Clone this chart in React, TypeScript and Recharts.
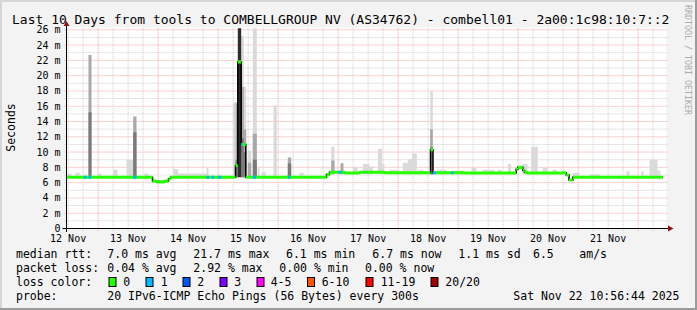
import React from 'react';
import { ComposedChart, Area, XAxis, YAxis, ReferenceLine, CartesianGrid } from 'recharts';

const W = 697;
const H = 310;
const MONO = "'DejaVu Sans Mono', monospace";

// x = hours since 12 Nov 00:00, window is the last 10 days
const T_START = 11.35;
const T_END = 251.35;
const Y_MAX = 26.3;

const title = 'Last 10 Days from tools to COMBELLGROUP NV (AS34762) - combell01 - 2a00:1c98:10:7::2';
const dayTicks = [12, 36, 60, 84, 108, 132, 156, 180, 204, 228];
const dayLabels = ['12 Nov', '13 Nov', '14 Nov', '15 Nov', '16 Nov', '17 Nov', '18 Nov', '19 Nov', '20 Nov', '21 Nov'];
const yTicks = [0, 2, 4, 6, 8, 10, 12, 14, 16, 18, 20, 22, 24, 26];
const yLabels = ['0', '2 m', '4 m', '6 m', '8 m', '10 m', '12 m', '14 m', '16 m', '18 m', '20 m', '22 m', '24 m', '26 m'];

// median rtt (ms), step changes
const medianT = [11.35, 45.75, 47.35, 50.55, 52.15, 52.95, 78.95, 79.87, 81.23, 83.07, 115.35, 116.55, 122.55, 128.55, 138.55, 156.95, 157.95, 170.55, 191.23, 191.87, 193.87, 194.55, 195.47, 209.23, 211.23, 212.35, 213.87, 249.87];
const medianV = [6.7, 6.2, 6.1, 6.2, 6.5, 6.7, 8.25, 21.8, 11.0, 6.7, 7.05, 7.35, 7.25, 7.35, 7.3, 10.3, 7.3, 7.25, 7.75, 8.0, 7.6, 7.35, 7.25, 7.3, 7.0, 6.35, 6.7, 6.7];

// periods with 1 lost ping [start, end]
const loss1 = [
  [18.27, 19.35], [20.15, 21.35], [38.03, 39.35], [67.35, 68.43], [69.35, 70.43], [71.87, 73.23],
  [81.23, 81.87], [85.87, 87.23], [99.87, 100.95], [120.15, 121.47], [157.95, 159.23], [165.23, 166.15],
];

// smoke [start, end, low, high] in ms, by shade
const smokeLight = [
  [11.35, 13.35, 6.7, 7.15], [14.95, 16.55, 6.7, 7.3], [23.75, 25.35, 6.7, 7.2], [30.03, 31.75, 6.7, 7.7],
  [35.35, 38.03, 6.7, 9.0], [42.55, 44.15, 6.7, 7.2], [54.03, 56.03, 6.7, 7.8], [56.03, 67.35, 6.7, 7.2],
  [67.35, 68.15, 6.7, 7.9], [77.95, 78.95, 6.7, 16.5], [81.23, 82.27, 6.7, 25.2], [82.27, 83.23, 6.7, 18.5],
  [83.87, 85.23, 6.7, 10.2], [85.87, 87.47, 6.7, 26.2], [87.75, 88.55, 6.7, 8.0], [89.35, 90.95, 6.7, 7.4],
  [94.15, 95.47, 6.7, 16.1], [104.55, 106.15, 6.7, 7.3], [117.23, 118.55, 7.1, 10.7], [125.87, 127.87, 7.1, 8.0],
  [129.87, 132.55, 7.1, 8.45], [132.55, 133.87, 7.1, 8.1], [135.87, 137.63, 7.1, 10.4], [137.63, 138.55, 7.1, 8.45],
  [140.55, 144.55, 7.1, 7.7], [145.87, 147.87, 7.1, 8.6], [147.87, 149.63, 7.1, 9.1], [149.63, 151.47, 7.1, 9.8],
  [151.75, 154.15, 7.1, 7.7], [156.83, 157.87, 7.1, 18.0], [159.35, 163.35, 7.1, 7.7], [166.55, 170.55, 7.1, 7.6],
  [173.35, 175.35, 7.1, 7.9], [177.75, 182.55, 7.1, 7.7], [183.75, 185.35, 7.1, 7.7], [187.87, 189.23, 7.1, 8.45],
  [193.75, 195.75, 7.1, 8.45], [197.23, 199.87, 7.1, 10.7], [201.75, 203.75, 7.1, 7.95], [205.75, 207.35, 7.1, 7.7],
  [213.75, 216.55, 6.6, 7.25], [220.55, 224.55, 6.6, 7.1], [235.35, 236.55, 6.6, 7.5], [241.23, 242.15, 6.6, 7.5],
  [244.55, 247.75, 6.6, 9.0], [247.75, 248.95, 6.6, 7.6],
];
const smokeMid = [
  [20.15, 21.35, 6.7, 22.7], [38.03, 39.35, 6.7, 14.66], [78.95, 79.87, 6.7, 16.5], [81.23, 82.27, 6.7, 18.5],
  [82.27, 83.23, 6.7, 13.0], [83.87, 85.23, 6.7, 8.6], [85.87, 87.47, 6.7, 12.4], [99.87, 101.23, 6.7, 9.3],
  [117.23, 118.55, 7.1, 8.9], [120.95, 122.15, 7.1, 8.55], [156.83, 157.87, 7.1, 13.0],
];
const smokeDark = [
  [20.15, 21.35, 6.7, 15.2], [38.03, 39.35, 6.7, 12.6], [78.95, 79.87, 6.7, 9.0], [81.23, 82.27, 6.7, 11.8],
  [82.27, 83.23, 6.7, 10.0], [85.87, 87.47, 6.7, 9.0], [99.87, 101.23, 6.7, 8.5], [156.83, 157.87, 7.1, 10.6],
];
const smokeBlack = [[79.87, 81.23, 6.7, 26.2]];

// legend
const rttStats = ['7.0 ms avg', '21.7 ms max', '6.1 ms min', '6.7 ms now', '1.1 ms sd', '6.5', 'am/s'];
const lossStats = ['0.04 % avg', '2.92 % max', '0.00 % min', '0.00 % now'];
const lossLabels = ['0', '1', '2', '3', '4-5', '6-10', '11-19', '20/20'];
const lossColors = ['#26ff00', '#00b8ff', '#0059ff', '#7e00ff', '#ff00ff', '#ff5500', '#ff0000', '#a10000'];
const probeText = '20 IPv6-ICMP Echo Pings (56 Bytes) every 300s';
const stamp = 'Sat Nov 22 10:56:44 2025';

// legend layout (px)
const rttX = [107.3, 193.3, 286, 372.3, 458.3, 533, 579.3];
const lossX = [107.3, 193.3, 279.3, 365];
const boxX = [108.5, 145.5, 182.5, 219.5, 256.5, 307, 365.5, 430.5];
const boxLabelX = [123.3, 160.7, 197.3, 234.3, 270.7, 321.7, 380.7, 445.3];

const BAND = 0.2;

function medianAt(t: number) {
  let v = medianV[0];
  for (let i = 0; i < medianT.length; i++) if (medianT[i] <= t) v = medianV[i];
  return v;
}

function segRows(segs: number[][]) {
  const rows: { t: number; v: number[] | null }[] = [];
  [...segs].sort((a, b) => a[0] - b[0]).forEach(([t0, t1, lo, hi]) => {
    rows.push({ t: t0, v: [lo, hi] });
    rows.push({ t: t1, v: [lo, hi] });
    rows.push({ t: t1, v: null });
  });
  return rows;
}

const medianRows = medianT.map((t, i) => ({ t, m: medianV[i], v: [medianV[i] - BAND, medianV[i] + BAND] }));
const lossRows = segRows(loss1.map(([a, b]) => {
  const m = medianAt(a + 1e-6);
  return [a, b, m - BAND, m + BAND];
}));

const hGrid: number[] = [];
for (let v = 1; v <= 26; v++) hGrid.push(v);
const vGrid: number[] = [];
for (let t = 12; t < T_END; t += 6) vGrid.push(t);

const RED = '#f4a4a4';
const GRAY = '#cdcdcd';

export default function App() {
  const txt = { fontFamily: MONO, fontSize: 11.5, fill: '#000' };
  return (
    <div style={{ position: 'absolute', left: 0, top: 0, width: W, height: H, background: '#f3f3f3' }}>
      <ComposedChart width={W} height={H} margin={{ top: 27.5, right: 30.5, bottom: 61.5, left: 6.5 }}>
        <CartesianGrid fill="#ffffff" stroke="none" horizontal={false} vertical={false} />
        <XAxis
          dataKey="t"
          type="number"
          domain={[T_START, T_END]}
          allowDataOverflow
          ticks={dayTicks}
          interval={0}
          tickFormatter={(v: number) => dayLabels[dayTicks.indexOf(v)]}
          height={20}
          tickLine={false}
          tickSize={0}
          tickMargin={6}
          axisLine={{ stroke: '#000' }}
          tick={{ fontFamily: MONO, fontSize: 10, fill: '#000' }}
        />
        <YAxis
          type="number"
          domain={[0, Y_MAX]}
          allowDataOverflow
          ticks={yTicks}
          interval={0}
          tickFormatter={(v: number) => yLabels[yTicks.indexOf(v)]}
          width={60}
          tickLine={false}
          tickSize={0}
          tickMargin={6}
          axisLine={{ stroke: '#000' }}
          tick={{ fontFamily: MONO, fontSize: 10, fill: '#000' }}
        />
        {hGrid.map((v) => (
          <ReferenceLine
            key={`h${v}`}
            segment={[{ x: T_START - 0.8, y: v }, { x: T_END + 0.8, y: v }]}
            stroke={v % 2 === 0 ? RED : GRAY}
            strokeDasharray="1 1"
            ifOverflow="visible"
            zIndex={50}
          />
        ))}
        {vGrid.map((t) => (
          <ReferenceLine
            key={`v${t}`}
            segment={[{ x: t, y: -0.35 }, { x: t, y: Y_MAX }]}
            stroke={t % 24 === 0 ? RED : GRAY}
            strokeDasharray="1 1"
            ifOverflow="visible"
            zIndex={50}
          />
        ))}
        <Area data={segRows(smokeLight)} dataKey="v" type="stepAfter" fill="#dadada" fillOpacity={1} stroke="none" isAnimationActive={false} />
        <Area data={segRows(smokeMid)} dataKey="v" type="stepAfter" fill="#a9a9a9" fillOpacity={1} stroke="none" isAnimationActive={false} />
        <Area data={segRows(smokeDark)} dataKey="v" type="stepAfter" fill="#7a7a7a" fillOpacity={1} stroke="none" isAnimationActive={false} />
        <Area data={segRows(smokeBlack)} dataKey="v" type="stepAfter" fill="#2e2e2e" fillOpacity={1} stroke="none" isAnimationActive={false} />
        {/* black step outline of the median, shows at the jumps */}
        <Area data={medianRows} dataKey="m" type="stepAfter" fill="none" stroke="#000" strokeWidth={1.5} isAnimationActive={false} />
        <Area data={medianRows} dataKey="v" type="stepAfter" fill={lossColors[0]} fillOpacity={1} stroke="none" isAnimationActive={false} />
        <Area data={lossRows} dataKey="v" type="stepAfter" fill={lossColors[1]} fillOpacity={1} stroke="none" isAnimationActive={false} />
      </ComposedChart>

      <svg width={W} height={H} style={{ position: 'absolute', left: 0, top: 0, pointerEvents: 'none' }}>
        {/* frame */}
        <line x1={0} y1={1} x2={W} y2={1} stroke="#d6d6d6" strokeWidth={2} />
        <line x1={1} y1={0} x2={1} y2={H} stroke="#d6d6d6" strokeWidth={2} />
        <line x1={0} y1={H - 1} x2={W} y2={H - 1} stroke="#9b9b9b" strokeWidth={2} />
        <line x1={W - 1} y1={0} x2={W - 1} y2={H} stroke="#9b9b9b" strokeWidth={2} />

        {/* axis ends and arrows */}
        <line x1={62.5} y1={228.5} x2={668} y2={228.5} stroke="#000" />
        <line x1={66.5} y1={232} x2={66.5} y2={25} stroke="#000" />
        <polygon points="668,225.5 673.5,228.5 668,231.5" fill="#8e1414" />
        <polygon points="63.5,26 66.5,21 69.5,26" fill="#8e1414" />

        <text x={12} y={24} style={{ fontFamily: MONO, fontSize: 13, fill: '#000' }}>{title}</text>
        <text transform="translate(14.5,127.5) rotate(-90)" textAnchor="middle" style={txt}>Seconds</text>
        <text transform="translate(684.5,5) rotate(90)" style={{ fontFamily: MONO, fontSize: 8.3, fill: '#ababab' }}>
          RRDTOOL / TOBI OETIKER
        </text>

        <text x={16} y={258.3} style={txt}>median rtt:</text>
        {rttStats.map((s, i) => (
          <text key={s + i} x={rttX[i]} y={258.3} style={txt}>{s}</text>
        ))}
        <text x={16} y={272.3} style={txt}>packet loss:</text>
        {lossStats.map((s, i) => (
          <text key={s + i} x={lossX[i]} y={272.3} style={txt}>{s}</text>
        ))}
        <text x={16} y={286.3} style={txt}>loss color:</text>
        {lossLabels.map((s, i) => (
          <g key={s}>
            <rect x={boxX[i] + 0.5} y={277.5} width={7} height={9} fill={lossColors[i]} stroke="#000" />
            <text x={boxLabelX[i]} y={286.3} style={txt}>{s}</text>
          </g>
        ))}
        <text x={16} y={300.3} style={txt}>probe:</text>
        <text x={107.3} y={300.3} style={txt}>{probeText}</text>
        <text x={513.3} y={300.3} style={txt}>{stamp}</text>
      </svg>
    </div>
  );
}
